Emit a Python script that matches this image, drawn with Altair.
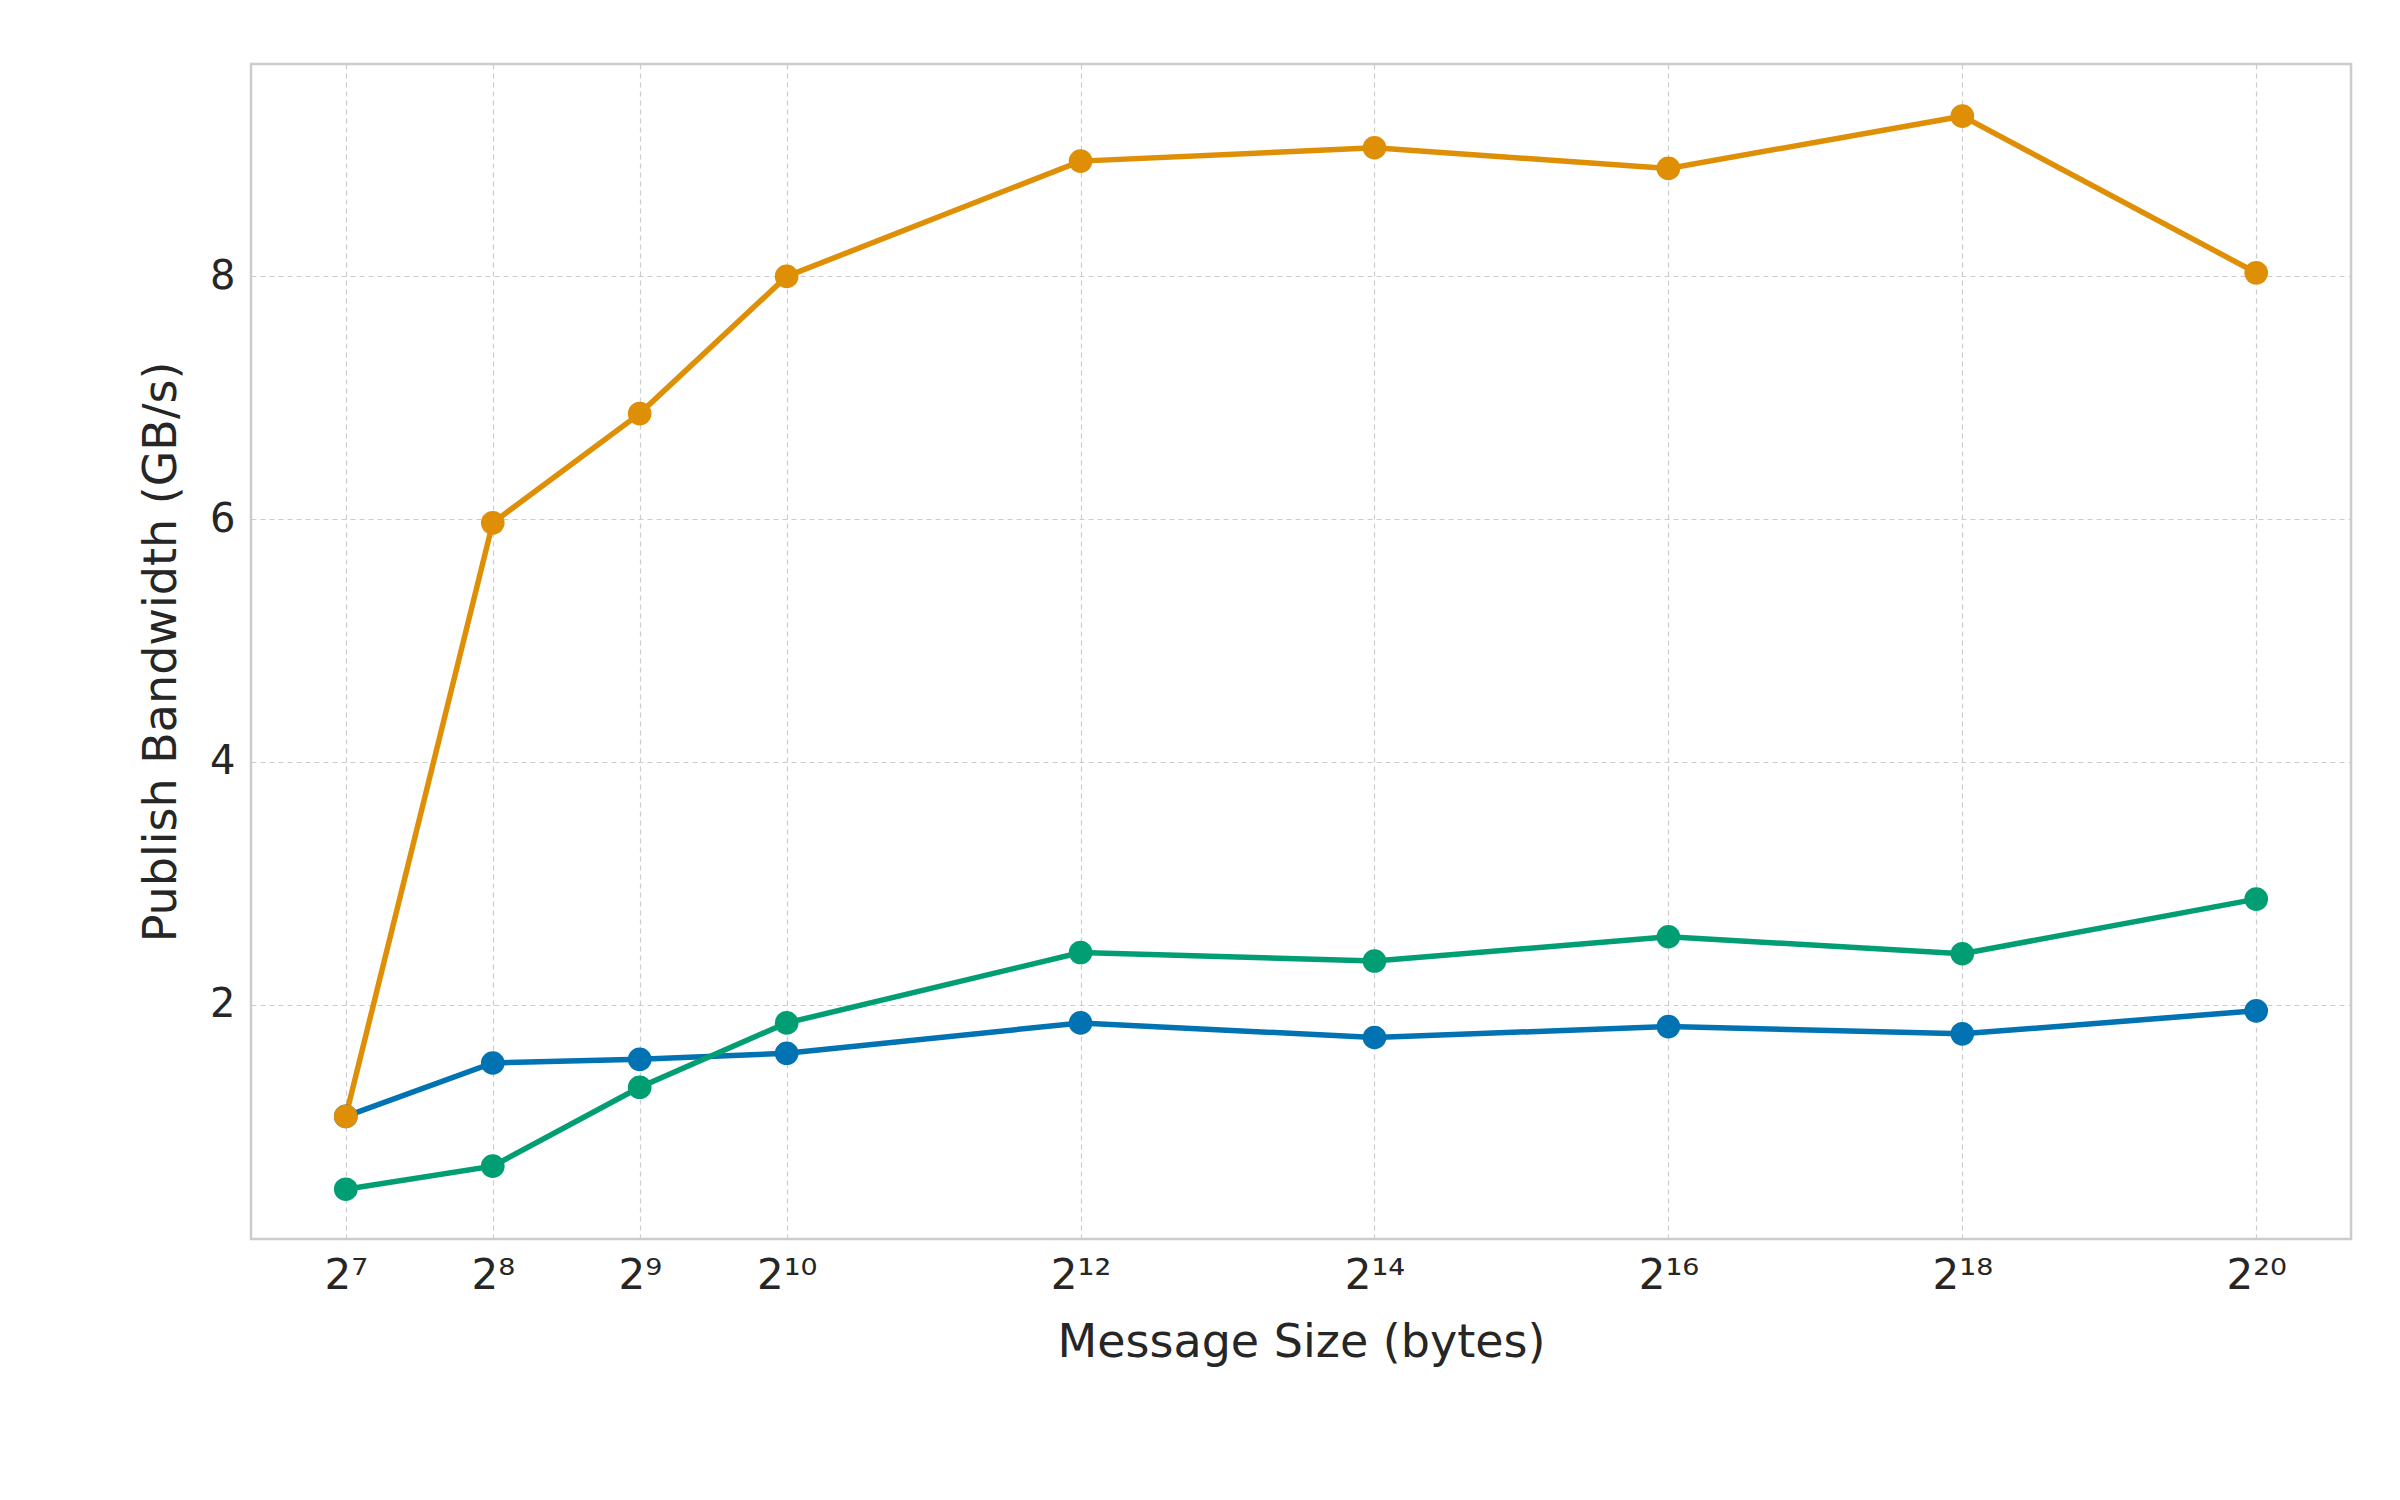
import altair as alt
import pandas as pd

exps = [7, 8, 9, 10, 12, 14, 16, 18, 20]
corfu = [1.08, 1.52, 1.55, 1.60, 1.85, 1.73, 1.82, 1.76, 1.95]
embarcadero = [1.08, 5.97, 6.87, 8.00, 8.95, 9.06, 8.89, 9.32, 8.03]
scalog = [0.48, 0.67, 1.32, 1.85, 2.43, 2.36, 2.56, 2.42, 2.87]
NB = "\u00a0"
names = [
    "Corfu" + NB * 7 + "(Strong Total Order)",
    "Embarcadero (Strong Total Order)",
    "Scalog" + NB * 6 + "(Weak Total Order)",
]
colors = ["#0173b2", "#de8f05", "#029e73"]

rows = []
for n, vals in zip(names, [corfu, embarcadero, scalog]):
    for e, v in zip(exps, vals):
        rows.append({"exp": e, "bw": v, "series": n})
df = pd.DataFrame(rows)

sup = {"0": "⁰", "1": "¹", "2": "²", "4": "⁴", "6": "⁶", "7": "⁷", "8": "⁸", "9": "⁹"}
expr = "''"
for e in exps:
    s = "2" + "".join(sup[c] for c in str(e))
    expr = f"datum.value == {e} ? '{s}' : ({expr})"

font = "DejaVu Sans"
x = alt.X("exp:Q", scale=alt.Scale(domain=[6.355, 20.645], nice=False, zero=False),
          axis=alt.Axis(values=exps, labelExpr=expr, title="Message Size (bytes)",
                        labelFontSize=42, titleFontSize=46, titlePadding=24, labelPadding=16))
y = alt.Y("bw:Q", scale=alt.Scale(domain=[0.07, 9.75], nice=False, zero=False),
          axis=alt.Axis(values=[2, 4, 6, 8], title="Publish Bandwidth (GB/s)",
                        labelFontSize=40, titleFontSize=46, titlePadding=24, labelPadding=16))
cscale = alt.Scale(domain=names, range=colors)
sym = "M-1,-0.09H1V0.09H-1Z M0.33,0 A0.33,0.33 0 1,1 -0.33,0 A0.33,0.33 0 1,1 0.33,0Z"

line = alt.Chart(df).mark_line(strokeWidth=5.5).encode(x=x, y=y, color=alt.Color("series:N", scale=cscale, legend=None))
pts = alt.Chart(df).mark_circle(size=560, opacity=1).encode(
    x=x, y=y,
    color=alt.Color("series:N", scale=cscale,
                    legend=alt.Legend(title=None, orient="none", legendX=950, legendY=452,
                                      labelFontSize=40, labelLimit=1200, symbolSize=3600,
                                      symbolType=sym, symbolOpacity=1, rowPadding=20, padding=18,
                                      strokeColor="#cccccc", fillColor="white", cornerRadius=4,
                                      labelOffset=20)))

chart = (line + pts).properties(
    width=2100, height=1175,
    padding={"left": 130, "top": 56, "right": 10, "bottom": 10},
).configure(font=font).configure_axis(
    gridColor="#cccccc", gridDash=[5, 4], gridWidth=1.2, domain=False, ticks=False,
    labelColor="#262626", titleColor="#262626", labelFont=font, titleFont=font, titleFontWeight="normal"
).configure_view(stroke="#cccccc", strokeWidth=2.5).configure_legend(labelFont=font, labelColor="#262626")

chart.save("out.html", embed_options={"renderer": "svg", "actions": False})
